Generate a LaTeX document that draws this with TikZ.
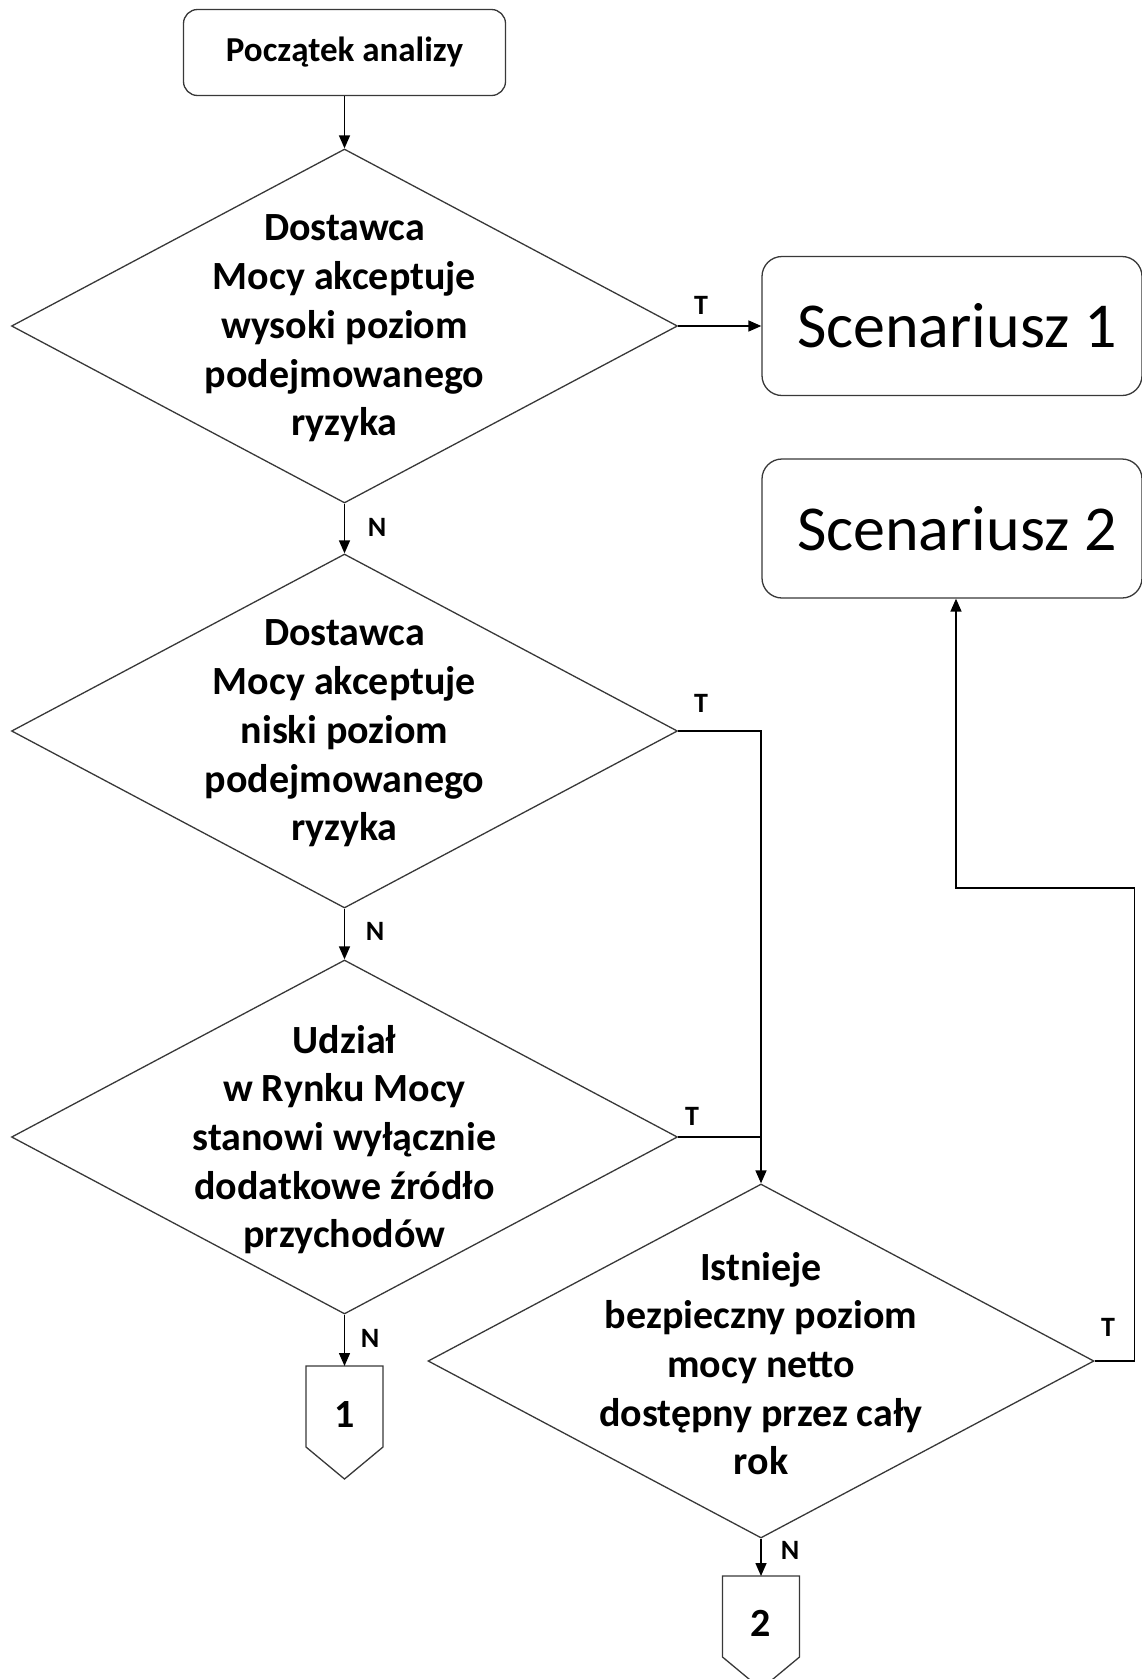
\documentclass[tikz,border=0pt]{standalone}
\usepackage{fontspec}
\setmainfont{Carlito}
\usetikzlibrary{shapes.geometric,arrows.meta}

\begin{document}
\begin{tikzpicture}[x=1pt,y=-1pt,
  shapeline/.style={draw=black!78, line width=1.3pt},
  decision/.style={diamond, shapeline, inner sep=0pt, minimum width=666pt, minimum height=354pt},
  dtext/.style={font=\bfseries\fontsize{40}{48.7}\selectfont, align=center, inner sep=0pt, yshift=-2.5pt},
  startbox/.style={rectangle, rounded corners=14pt, shapeline, minimum width=322pt, minimum height=86pt,
    font=\bfseries\fontsize{35}{42}\selectfont},
  scenbox/.style={rectangle, rounded corners=20pt, shapeline, minimum width=380pt, minimum height=139pt,
    font=\fontsize{64}{76}\selectfont},
  flag/.style={font=\bfseries\fontsize{28}{32}\selectfont, inner sep=0pt},
  ctext/.style={font=\bfseries\fontsize{40}{46}\selectfont, inner sep=0pt},
  wire/.style={draw=black, line width=1.5pt},
  arr/.style={wire, -{Triangle[length=13pt,width=11pt]}}
]
\useasboundingbox (0,0) rectangle (1142,1679);
\clip (0,0) rectangle (1142,1679);

% start
\node[startbox] (start) at (344.5,52.5) {Początek analizy};

% decisions
\node[decision] (d1) at (344.5,326) {};
\node[dtext] (t1) at (d1.center) {Dostawca\\Mocy akceptuje\\wysoki poziom\\podejmowanego\\ryzyka};

\node[decision] (d2) at (344.5,731) {};
\node[dtext] (t2) at (d2.center) {Dostawca\\Mocy akceptuje\\niski poziom\\podejmowanego\\ryzyka};

\node[decision] (d3) at (344.5,1137) {};
\node[dtext] (t3) at (d3.center) {Udział\\w Rynku Mocy\\stanowi wyłącznie\\dodatkowe źródło\\przychodów};

\node[decision] (d4) at (761,1361) {};
\node[dtext] (t4) at (d4.center) {Istnieje\\bezpieczny poziom\\mocy netto\\dostępny przez cały\\rok};

% scenarios
\node[scenbox] (s1) at (952,326) {\hspace*{10pt}Scenariusz 1};
\node[scenbox] (s2) at (952,528.5) {\hspace*{10pt}Scenariusz 2};

% off-page connectors
\coordinate (c1) at (344.5,1366);
\draw[shapeline] (c1) -- ++(38.5,0) -- ++(0,81) -- ++(-38.5,32) -- ++(-38.5,-32) -- ++(0,-81) -- cycle;
\node[ctext] (n1) at (344.5,1414) {1};

\coordinate (c2) at (761,1576);
\draw[shapeline] (c2) -- ++(38.5,0) -- ++(0,81) -- ++(-38.5,32) -- ++(-38.5,-32) -- ++(0,-81) -- cycle;
\node[ctext] (n2) at (761,1623) {2};

% connectors
\draw[arr] (start.south) -- (d1.north);
\draw[arr] (d1.east) -- (s1.west);
\draw[arr] (d1.south) -- (d2.north);
\draw[arr] (d2.south) -- (d3.north);
\draw[arr] (d3.south) -- (c1);
\draw[arr] (d2.east) -| (d4.north);
\draw[wire] (d3.east) -- (d4.north |- d3.east);
\draw[arr] (d4.south) -- (c2);
\coordinate (r1) at (1134.5,888);
\draw[arr] (d4.east) -| (r1) -| ([xshift=4pt]s2.south);

% branch labels
\node[flag] (lt1) at (701,305) {T};
\node[flag] (ln1) at (377,527) {N};
\node[flag] (lt2) at (701,703) {T};
\node[flag] (ln2) at (375,931) {N};
\node[flag] (lt3) at (692,1116) {T};
\node[flag] (ln3) at (370,1338) {N};
\node[flag] (lt4) at (1108,1327) {T};
\node[flag] (ln4) at (790,1550) {N};
\end{tikzpicture}
\end{document}
